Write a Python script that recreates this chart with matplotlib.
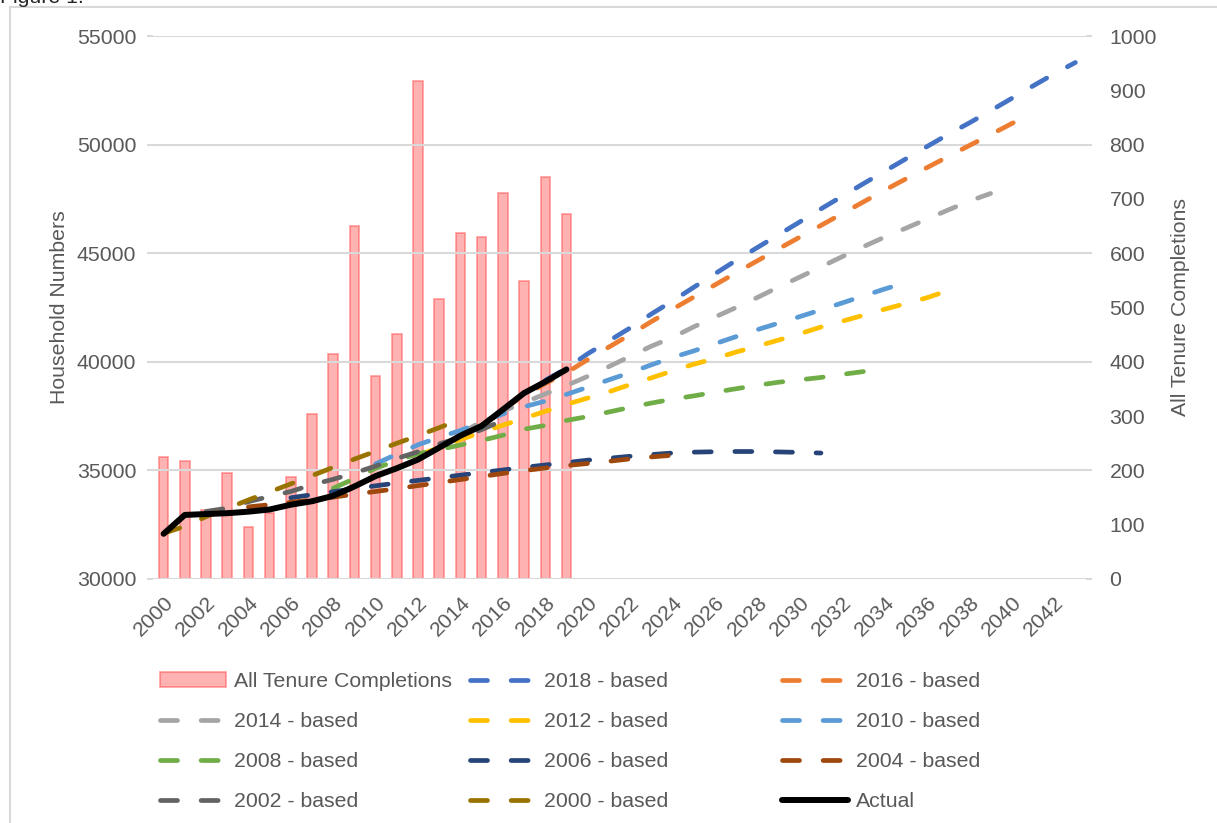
import matplotlib.pyplot as plt
import numpy as np
from matplotlib.lines import Line2D
from matplotlib.patches import Patch

plt.rcParams['font.family'] = ['Liberation Sans', 'DejaVu Sans']
plt.rcParams['font.size'] = 15.3

GRID = '#D9D9D9'
TEXT = '#595959'

# completions per year (right axis)
bar_years = list(range(2000, 2020))
completions = [225, 218, 127, 195, 96, 121, 188, 304, 414, 651,
               374, 451, 917, 515, 637, 630, 711, 549, 740, 672]

# actual household numbers
actual_years = list(range(2000, 2020))
actual = [32080, 32950, 32990, 33030, 33100, 33200, 33420, 33580, 33830, 34260,
          34740, 35100, 35500, 36050, 36600, 37050, 37800, 38560, 39080, 39650]

# projections, each starting in its base year
based_2018 = [39150, 39700, 40370, 40960, 41560, 42200, 42800, 43430, 44050, 44670,
              45260, 45850, 46440, 47040, 47620, 48200, 48770, 49340, 49910, 50470,
              51000, 51560, 52130, 52700, 53260, 53780]
based_2016 = [37800, 38450, 39000, 39500, 40100, 40680, 41250, 41850, 42420, 42980,
              43540, 44100, 44650, 45200, 45740, 46280, 46820, 47360, 47900, 48420,
              48940, 49450, 49960, 50460, 50970, 51470]
based_2014 = [36700, 37250, 37730, 38120, 38520, 38910, 39330, 39780, 40250, 40720,
              41120, 41610, 42060, 42500, 42960, 43440, 43900, 44370, 44840, 45300,
              45740, 46150, 46570, 46990, 47400, 47750]
based_2012 = [35700, 36050, 36420, 36760, 37080, 37400, 37720, 38040, 38330, 38620,
              38950, 39260, 39580, 39890, 40150, 40450, 40720, 41000, 41290, 41600,
              41870, 42140, 42420, 42680, 42950, 43280]
based_2010 = [35300, 35750, 36180, 36520, 36840, 37220, 37600, 37930, 38190, 38500,
              38830, 39170, 39500, 39860, 40200, 40500, 40830, 41160, 41480, 41780,
              42080, 42390, 42710, 43030, 43350, 43640]
based_2008 = [34180, 34620, 35100, 35450, 35770, 35960, 36170, 36380, 36620, 36900,
              37070, 37300, 37480, 37690, 37900, 38100, 38280, 38430, 38600, 38760,
              38920, 39060, 39170, 39280, 39420, 39550]
based_2006 = [33740, 33880, 34020, 34160, 34290, 34420, 34540, 34660, 34780, 34900,
              35020, 35140, 35250, 35360, 35470, 35560, 35650, 35730, 35800, 35840,
              35860, 35870, 35870, 35850, 35830, 35800]
based_2004 = [33320, 33420, 33530, 33640, 33770, 33900, 34030, 34160, 34300, 34440,
              34580, 34720, 34860, 34990, 35110, 35220, 35320, 35420, 35530, 35620,
              35700]
based_2002 = [33110, 33260, 33560, 33800, 34030, 34340, 34590, 34880, 35200, 35550,
              35860, 36220, 36520, 36880, 37300]
based_2000 = [32100, 32430, 32870, 33250, 33640, 34010, 34380, 34760, 35140, 35520,
              35880, 36250, 36600, 36970, 37340]

projections = [
    ('2018 - based', 2018, based_2018, '#4472C4'),
    ('2016 - based', 2016, based_2016, '#ED7D31'),
    ('2014 - based', 2014, based_2014, '#A5A5A5'),
    ('2012 - based', 2012, based_2012, '#FFC000'),
    ('2010 - based', 2010, based_2010, '#5B9BD5'),
    ('2008 - based', 2008, based_2008, '#70AD47'),
    ('2006 - based', 2006, based_2006, '#264478'),
    ('2004 - based', 2004, based_2004, '#9E480E'),
    ('2002 - based', 2002, based_2002, '#636363'),
    ('2000 - based', 2000, based_2000, '#997300'),
]

DASH_LW = 3.4
DASHES = (3.6, 5.0)

fig = plt.figure(figsize=(12.17, 8.23), dpi=100)
ax = fig.add_axes([153 / 1217, 1 - 579 / 823, 933 / 1217, 543 / 823])
ax2 = ax.twinx()

# bars on the secondary axis, lines on top
bar_face = (1, 0.4, 0.4, 0.5)
bar_edge = (1, 0.3, 0.3, 0.55)
ax2.bar(bar_years, completions, width=0.45, facecolor=bar_face,
        edgecolor=bar_edge, linewidth=1.2)

handles = {}
for i, (label, start, values, color) in enumerate(projections):
    years = np.arange(start, start + len(values))
    (ln,) = ax.plot(years, values, color=color, lw=DASH_LW, dashes=DASHES,
                    dash_capstyle='round', zorder=3 + i)
    handles[label] = ln

(actual_ln,) = ax.plot(actual_years, actual, color='black', lw=4.3,
                       solid_capstyle='round', solid_joinstyle='round', zorder=20)
handles['Actual'] = actual_ln
handles['All Tenure Completions'] = Patch(facecolor=bar_face, edgecolor=bar_edge,
                                          linewidth=1.2)

ax.set_zorder(ax2.get_zorder() + 1)
ax.patch.set_visible(False)

ax.set_xlim(1999.5, 2043.5)
ax.set_ylim(30000, 55000)
ax.set_yticks(range(30000, 55001, 5000))
ax2.set_ylim(0, 1000)
ax2.set_yticks(range(0, 1001, 100))

xt = list(range(2000, 2043, 2))
ax.set_xticks(xt)
ax.set_xticklabels([str(y) for y in xt], rotation=45, ha='right',
                   rotation_mode='anchor')

ax.grid(axis='y', color=GRID, lw=1.5)
ax.set_axisbelow(True)
for a in (ax, ax2):
    for s in a.spines.values():
        s.set_visible(False)

ax.tick_params(axis='x', length=0, pad=10, labelcolor=TEXT)
ax.tick_params(axis='y', length=4, width=1.5, color=GRID, labelcolor=TEXT,
               pad=8, right=True)
ax2.tick_params(axis='y', length=0, pad=17, labelcolor=TEXT)

ax.set_ylabel('Household Numbers', color=TEXT, labelpad=6)
ax2.set_ylabel('All Tenure Completions', color=TEXT, labelpad=10)

# legend laid out as three separate columns
columns = [
    (160, ['All Tenure Completions', '2014 - based', '2008 - based', '2002 - based']),
    (470, ['2018 - based', '2012 - based', '2006 - based', '2000 - based']),
    (782, ['2016 - based', '2010 - based', '2004 - based', 'Actual']),
]
for x0, labels in columns:
    fig.legend([handles[l] for l in labels], labels,
               loc='upper left', bbox_to_anchor=(x0 / 1217, 1 - 672 / 823),
               frameon=False, borderpad=0, borderaxespad=0,
               handlelength=3.1, handletextpad=0.38, labelspacing=0.99,
               labelcolor=TEXT)

# outer frame and caption
fig.add_artist(Line2D([10 / 1217, 10 / 1217], [0, 1 - 7 / 823],
                      transform=fig.transFigure, color=GRID, lw=1.5))
fig.add_artist(Line2D([10 / 1217, 1], [1 - 7 / 823, 1 - 7 / 823],
                      transform=fig.transFigure, color=GRID, lw=1.5))
fig.text(0.0, 1 - 3 / 823, 'Figure 1.', ha='left', va='baseline', color='#262626')

fig.savefig('out.png', dpi=100)
